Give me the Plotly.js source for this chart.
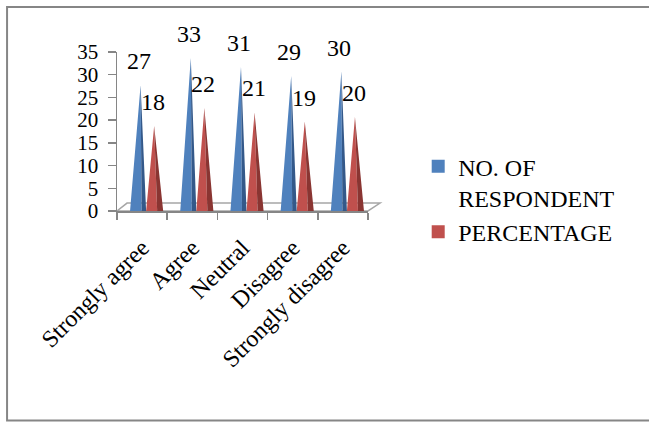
<!DOCTYPE html>
<html>
<head>
<meta charset="utf-8">
<script src="https://cdn.plot.ly/plotly-3.0.1.min.js"></script>
<style>
  html, body { margin: 0; padding: 0; background: #fff; }
  #chart { width: 649px; height: 424px; }
</style>
</head>
<body>
<div id="chart"></div>
<script>
// ---- data ----
const categories = ["Strongly agree", "Agree", "Neutral", "Disagree", "Strongly disagree"];
const respondents = [27, 33, 31, 29, 30];
const percentages = [18, 22, 21, 19, 20];
const seriesNames = ["NO. OF<br>RESPONDENT", "PERCENTAGE"];
const yTicks = [0, 5, 10, 15, 20, 25, 30, 35];

// ---- style ----
const FONT = "Times New Roman, Liberation Serif, serif";
const FS = 24;
const BLUE = "#4F81BD", BLUE_DARK = "#34598A";
const RED = "#C0504D", RED_DARK = "#8A3532";
const AXIS = "#868686";
const DEPTH = 0.7; // pseudo 3D tip lift

// cone geometry relative to category centre: [leftBase, tip, split, rightBase]
const geom = [
  [-0.24, -0.03, -0.01, 0.08],
  [0.08, 0.24, 0.30, 0.42]
];

function coneTraces(vals, g, light, dark) {
  const mx = [], my = [], dx = [], dy = [];
  vals.forEach((v, i) => {
    const t = v + DEPTH;
    mx.push(i + g[0], i + g[1], i + g[2], i + g[0], null);
    my.push(0, t, 0, 0, null);
    dx.push(i + g[1], i + g[3], i + g[2], i + g[1], null);
    dy.push(t, 0, 0, t, null);
  });
  const base = {type: "scatter", mode: "lines", fill: "toself", line: {width: 0},
                hoverinfo: "skip", showlegend: false, xaxis: "x", yaxis: "y"};
  return [
    Object.assign({}, base, {x: mx, y: my, fillcolor: light}),
    Object.assign({}, base, {x: dx, y: dy, fillcolor: dark})
  ];
}

const traces = []
  .concat(coneTraces(respondents, geom[0], BLUE, BLUE_DARK))
  .concat(coneTraces(percentages, geom[1], RED, RED_DARK));

// legend-only traces
[[seriesNames[0], BLUE], [seriesNames[1], RED]].forEach(([n, c]) => {
  traces.push({type: "scatter", mode: "markers", x: [null], y: [null], name: n,
    marker: {symbol: "square", size: 13, color: c}, xaxis: "x2", yaxis: "y",
    hoverinfo: "skip"});
});

// data labels
const annotations = [];
[[respondents, geom[0], -2], [percentages, geom[1], -1]].forEach(([vals, g, xs]) => {
  vals.forEach((v, i) => {
    annotations.push({x: i + g[1], y: v + DEPTH, xref: "x", yref: "y", text: String(v),
      showarrow: false, yshift: 24, xshift: xs, xanchor: "center", yanchor: "middle",
      font: {family: FONT, size: FS, color: "#000"}});
  });
});

const bounds = [];
for (let k = 0; k <= categories.length; k++) bounds.push(k - 0.5);
const xr = [-0.5, categories.length - 0.5];

const layout = {
  width: 649, height: 424,
  margin: {l: 117, r: 281, t: 52, b: 213},
  paper_bgcolor: "#fff", plot_bgcolor: "#fff",
  showlegend: true,
  font: {family: FONT, size: FS, color: "#000"},
  xaxis: {range: xr, tickvals: bounds, ticktext: bounds.map(() => ""), ticks: "outside",
    ticklen: 7, tickcolor: AXIS, tickwidth: 1.5, showline: true, linecolor: AXIS, linewidth: 1.5,
    showgrid: false, zeroline: false, fixedrange: true},
  xaxis2: {range: xr, overlaying: "x", anchor: "y", side: "bottom",
    tickvals: categories.map((c, i) => i), ticktext: categories, tickangle: -45,
    ticks: "", ticklabelstandoff: 17, showline: false, showgrid: false, zeroline: false,
    tickfont: {family: FONT, size: FS, color: "#000"}},
  yaxis: {range: [0, 35], tickvals: yTicks, ticks: "outside", ticklen: 8, tickcolor: AXIS,
    tickwidth: 1.5, showline: true, linecolor: AXIS, linewidth: 1.5, showgrid: false,
    zeroline: false, ticklabelstandoff: 5,
    tickfont: {family: FONT, size: 21, color: "#000"}},
  legend: {x: 1.2, y: 0.42, xanchor: "left", yanchor: "top", valign: "top",
    font: {family: FONT, size: FS, color: "#000"}, bgcolor: "rgba(0,0,0,0)",
    itemclick: false, itemdoubleclick: false},
  annotations: annotations,
  shapes: [
    // 3D floor
    {type: "path", xref: "paper", yref: "paper", layer: "below",
     path: "M 0,0 L 1,0 L 1.048,0.05 L 0.04,0.05 Z", line: {color: "#A6A6A6", width: 1.5}},
    // outer frame (left, top, bottom)
    {type: "path", xref: "paper", yref: "paper", layer: "below",
     path: "M 2.2,1.283 L -0.438,1.283 L -0.438,-1.318 L 2.2,-1.318",
     line: {color: AXIS, width: 2}}
  ]
};

Plotly.newPlot("chart", traces, layout, {staticPlot: true, displayModeBar: false});
</script>
</body>
</html>
